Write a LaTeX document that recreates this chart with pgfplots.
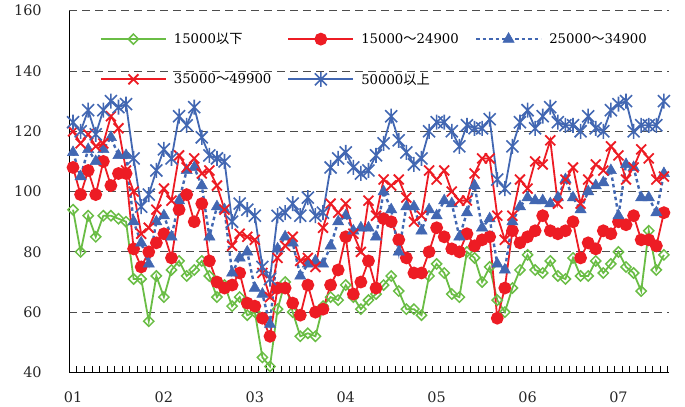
\documentclass[border=0pt]{standalone}
\usepackage{pgfplots}
\usepackage{pgfplotstable}
\pgfplotsset{compat=1.18}
\usepackage{fontspec}
\setmainfont{DejaVu Serif}
\newfontfamily\jp{Noto Sans CJK JP}
\definecolor{cgreen}{RGB}{106,189,69}
\definecolor{cred}{RGB}{237,28,36}
\definecolor{cblue}{RGB}{66,103,178}
\pgfdeclareplotmark{xstar}{%
 \pgfpathmoveto{\pgfqpoint{-0.8\pgfplotmarksize}{-0.8\pgfplotmarksize}}%
 \pgfpathlineto{\pgfqpoint{0.8\pgfplotmarksize}{0.8\pgfplotmarksize}}%
 \pgfpathmoveto{\pgfqpoint{-0.8\pgfplotmarksize}{0.8\pgfplotmarksize}}%
 \pgfpathlineto{\pgfqpoint{0.8\pgfplotmarksize}{-0.8\pgfplotmarksize}}%
 \pgfpathmoveto{\pgfqpoint{0pt}{-\pgfplotmarksize}}%
 \pgfpathlineto{\pgfqpoint{0pt}{\pgfplotmarksize}}%
 \pgfusepathqstroke}
\pgfplotstableread{
i green red tri xr star
0 94 108 113 120 123
1 80 99 105 116 120
2 92 107 114 119 127
3 85 99 110 115 119
4 92 110 114 116 127
5 92 102 118 125 130
6 91 106 112 121 128
7 90 106 112 107 129
8 71 81 90 100 111
9 71 75 83 86 95
10 57 80 76 88 99
11 72 83 90 94 107
12 65 86 92 101 114
13 74 78 85 97 111
14 77 94 97 112 125
15 72 99 107 108 122
16 74 90 108 111 128
17 77 96 102 106 118
18 72 77 85 107 112
19 65 70 95 102 111
20 69 68 94 94 110
21 62 69 73 82 90
22 65 73 78 86 96
23 59 63 80 85 94
24 60 62 68 84 92
25 45 58 66 73 75
26 42 52 56 65 71
27 61 68 81 78 92
28 70 68 85 82 93
29 60 63 83 85 96
30 52 59 72 77 92
31 53 69 76 78 98
32 52 60 77 75 92
33 62 61 76 88 93
34 65 69 82 96 108
35 64 74 90 93 111
36 69 85 92 96 113
37 65 66 87 86 108
38 61 70 88 80 106
39 64 77 88 97 107
40 66 68 85 92 112
41 69 91 100 104 116
42 72 90 94 102 125
43 67 84 80 104 117
44 61 78 95 98 113
45 61 73 95 90 109
46 59 73 87 92 111
47 72 80 94 107 120
48 76 88 92 104 123
49 73 85 97 107 123
50 66 81 96 100 120
51 65 80 85 97 115
52 80 86 93 97 122
53 78 82 102 106 121
54 70 84 88 111 121
55 75 85 91 111 124
56 64 58 76 92 104
57 60 68 74 84 101
58 68 87 90 92 115
59 74 83 95 104 123
60 79 85 98 101 127
61 74 87 97 110 121
62 73 92 97 109 125
63 77 87 96 117 128
64 72 86 98 96 123
65 71 87 104 104 122
66 78 90 98 108 122
67 72 78 94 96 120
68 72 83 100 104 125
69 77 81 102 109 121
70 73 87 103 107 120
71 76 86 107 115 127
72 80 90 92 112 129
73 75 89 109 104 130
74 73 92 108 108 120
75 67 84 98 114 122
76 87 84 98 111 122
77 74 82 93 104 122
78 79 93 106 105 130
}\data
\begin{document}
\begin{tikzpicture}
\begin{axis}[
  scale only axis, width=599.5bp, height=361.6bp,
  xmin=-0.5, xmax=78.67, ymin=40, ymax=160,
  clip=false,
  axis x line*=bottom, axis y line*=left,
  axis line style={line width=1.2bp, -},
  xtick={0,12,...,72}, xticklabels={01,02,03,04,05,06,07},
  minor xtick={0.5,1.5,...,78.5},
  ytick={40,60,...,160},
  major tick length=0pt, minor tick length=6bp,
  tick align=inside,
  minor tick style={black, line width=0.8bp},
  ymajorgrids,
  major grid style={dash pattern=on 8bp off 5bp, line width=0.9bp, color=black!70},
  /pgf/number format/assume math mode=true,
  ticklabel style={font=\fontsize{14.5}{18}\selectfont, text=black!85},
  yticklabel style={xshift=-24bp},
  xticklabel style={yshift=-16bp},
  legend style={draw=none, fill=none, legend columns=3,
    at={(rel axis cs:0.051,0.944)}, anchor=north west,
    font=\fontsize{13.3}{17}\selectfont, inner sep=0pt,
    row sep=24bp,
    /tikz/every odd column/.append style={column sep=5bp},
    /tikz/every even column/.append style={column sep=14bp}},
  legend cell align=left,
  legend image code/.code={\draw[mark repeat=2,mark phase=2] plot coordinates {(0bp,0bp)(32.5bp,0bp)(65bp,0bp)};},
]
\addplot[cgreen, line width=1.8bp, mark=square, mark size=3.6bp,
  mark options={fill=white, rotate=45, solid, line width=1.5bp}] table[x=i,y=green]{\data};
\addlegendentry{15000{\jp 以下}}
\addplot[cred, line width=1.8bp, mark=*, mark size=5.5bp,
  mark options={solid}] table[x=i,y=red]{\data};
\addlegendentry{15000{\jp ～}24900}
\addplot[cblue, line width=2.4bp, dash pattern=on 3.5bp off 3bp, mark=triangle*, mark size=6.5bp,
  mark options={solid, line width=0.5bp}] table[x=i,y=tri]{\data};
\addlegendentry{25000{\jp ～}34900}
\addplot[cred, line width=1.8bp, mark=x, mark size=7bp,
  mark options={solid, line width=1.8bp}] table[x=i,y=xr]{\data};
\addlegendentry{35000{\jp ～}49900}
\addplot[cblue, line width=1.8bp, mark=xstar, mark size=7.5bp,
  mark options={solid, line width=1.6bp}] table[x=i,y=star]{\data};
\addlegendentry{50000{\jp 以上}}
\end{axis}
\pgfresetboundingbox
\path ([xshift=-69.2bp,yshift=-33.7bp]current axis.south west) rectangle ([xshift=16bp,yshift=10.7bp]current axis.north east);
\end{tikzpicture}
\end{document}
